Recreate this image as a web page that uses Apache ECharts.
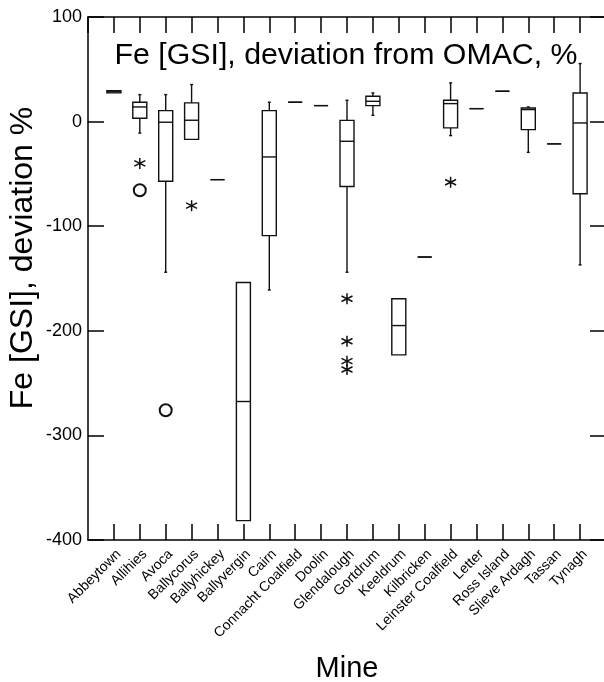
<!DOCTYPE html>
<html>
  <head>
    <meta charset="UTF-8" />
    <title></title>
    <style type="text/css">
      html,
      body {
        width: 100%;
        height: 100%;
        margin: 0;
        padding: 0;
        overflow: hidden;
        background: #fff;
      }
      #chart {
        width: 604px;
        height: 682px;
      }
    </style>
  </head>
  <body>
    <div id="chart"></div>
    <script src="https://cdn.jsdelivr.net/npm/echarts@6/dist/echarts.min.js"></script>
    <script type="text/javascript">
      const mines = [
        "Abbeytown", "Allihies", "Avoca", "Ballycorus", "Ballyhickey",
        "Ballyvergin", "Cairn", "Connacht Coalfield", "Doolin", "Glendalough",
        "Gortdrum", "Keeldrum", "Kilbricken", "Leinster Coalfield", "Letter",
        "Ross Island", "Slieve Ardagh", "Tassan", "Tynagh",
      ];
      // box stats per mine
      const lowWhisker = [27.5, -11, -144, -17, -55.5, -381.5, -161, 18.5, 15.3, -144, 6, -223, -129.5, -13.4, 12.4, 29, -29.4, -21.3, -137];
      const q1 = [27.5, 3.2, -57, -17, -55.5, -381.5, -109, 18.5, 15.3, -62, 15.3, -223, -129.5, -6, 12.4, 29, -7.7, -21.3, -69];
      const median = [28.5, 14, -0.6, 1.3, -55.5, -267.6, -33.8, 18.5, 15.3, -18.8, 19.4, -195, -129.5, 17.2, 12.4, 29, 11.5, -21.3, -1.3];
      const q3 = [29.5, 18.5, 10.5, 17.9, -55.5, -153.8, 10.5, 18.5, 15.3, 1.2, 24.2, -169.4, -129.5, 20.4, 12.4, 29, 13, -21.3, 27.4];
      const highWhisker = [29.5, 25.8, 25.8, 35.4, -55.5, -153.8, 18.5, 18.5, 15.3, 20.4, 27.4, -169.4, -129.5, 37, 12.4, 29, 14, -21.3, 55.5];

      // outliers (asterisk) and far outliers (circle)
      const starMine = ["Allihies", "Ballycorus", "Glendalough", "Glendalough", "Glendalough", "Glendalough", "Leinster Coalfield"];
      const starValue = [-40, -80.4, -169.4, -210, -229, -237, -58];
      const circleMine = ["Allihies", "Avoca"];
      const circleValue = [-65.7, -276];

      const yTicks = [100, 0, -100, -200, -300, -400];

      const boxData = mines.map((m, i) => [i + 1, lowWhisker[i], q1[i], median[i], q3[i], highWhisker[i]]);
      const starData = starMine.map((m, i) => [mines.indexOf(m) + 1, starValue[i]]);
      const circleData = circleMine.map((m, i) => [mines.indexOf(m) + 1, circleValue[i]]);

      const lineStyle = { stroke: "#111", lineWidth: 1.4, fill: null };

      function renderBox(params, api) {
        const x = api.value(0);
        const half = 7;
        const pLow = api.coord([x, api.value(1)]);
        const pQ1 = api.coord([x, api.value(2)]);
        const pMed = api.coord([x, api.value(3)]);
        const pQ3 = api.coord([x, api.value(4)]);
        const pHigh = api.coord([x, api.value(5)]);
        const cx = pMed[0];
        const children = [
          {
            type: "rect",
            shape: { x: cx - half, y: pQ3[1], width: half * 2, height: pQ1[1] - pQ3[1] },
            style: { stroke: "#111", lineWidth: 1.4, fill: "#fff" },
          },
          {
            type: "line",
            shape: { x1: cx - half, y1: pMed[1], x2: cx + half, y2: pMed[1] },
            style: lineStyle,
          },
        ];
        if (pHigh[1] < pQ3[1] - 0.5) {
          children.push(
            { type: "line", shape: { x1: cx, y1: pQ3[1], x2: cx, y2: pHigh[1] }, style: lineStyle },
            { type: "line", shape: { x1: cx - 1.5, y1: pHigh[1], x2: cx + 1.5, y2: pHigh[1] }, style: lineStyle }
          );
        }
        if (pLow[1] > pQ1[1] + 0.5) {
          children.push(
            { type: "line", shape: { x1: cx, y1: pQ1[1], x2: cx, y2: pLow[1] }, style: lineStyle },
            { type: "line", shape: { x1: cx - 1.5, y1: pLow[1], x2: cx + 1.5, y2: pLow[1] }, style: lineStyle }
          );
        }
        return { type: "group", children: children };
      }

      const starPath = "path://M6,0L6,12M0.8,3L11.2,9M0.8,9L11.2,3";
      const font = "Liberation Sans, Arial, sans-serif";

      const frameLine = { show: true, onZero: false, lineStyle: { color: "#000", width: 1.5 } };
      const frameTick = { show: true, inside: true, length: 16, lineStyle: { color: "#000", width: 1.5 } };

      const chart = echarts.init(document.getElementById("chart"));
      const option = {
        backgroundColor: "#fff",
        animation: false,
        textStyle: { fontFamily: font },
        title: {
          text: "Fe [GSI], deviation from OMAC, %",
          left: 341,
          textAlign: "center",
          top: 36,
          textStyle: { fontFamily: font, fontSize: 30.3, fontWeight: "normal", color: "#000" },
        },
        grid: { left: 88, top: 17, right: -2, bottom: 142, containLabel: false, outerBoundsMode: "none" },
        xAxis: [
          {
            type: "value",
            min: 0,
            max: 20,
            interval: 1,
            name: "Mine",
            nameLocation: "middle",
            nameGap: 114,
            nameTextStyle: { fontFamily: font, fontSize: 29, color: "#000" },
            axisLine: frameLine,
            axisTick: frameTick,
            axisLabel: {
              rotate: 45,
              margin: 7,
              verticalAlign: "top",
              fontFamily: font,
              fontSize: 14,
              color: "#000",
              showMinLabel: false,
              showMaxLabel: false,
              formatter: (v) => mines[v - 1] || "",
            },
            splitLine: { show: false },
          },
          {
            type: "value",
            position: "top",
            min: 0,
            max: 20,
            interval: 1,
            axisLine: frameLine,
            axisTick: frameTick,
            axisLabel: { show: false },
            splitLine: { show: false },
          },
        ],
        yAxis: [
          {
            type: "value",
            min: yTicks[yTicks.length - 1],
            max: yTicks[0],
            interval: 100,
            axisLine: frameLine,
            axisTick: frameTick,
            axisLabel: { margin: 6, fontFamily: font, fontSize: 18, color: "#000" },
            splitLine: { show: false },
          },
          {
            type: "value",
            position: "right",
            min: yTicks[yTicks.length - 1],
            max: yTicks[0],
            interval: 100,
            axisLine: frameLine,
            axisTick: frameTick,
            axisLabel: { show: false },
            splitLine: { show: false },
          },
        ],
        graphic: [
          {
            type: "text",
            x: 23,
            y: 258,
            rotation: Math.PI / 2,
            style: {
              text: "Fe [GSI], deviation %",
              font: "32px " + font,
              fill: "#000",
              textAlign: "center",
              textVerticalAlign: "middle",
            },
          },
        ],
        series: [
          {
            type: "custom",
            renderItem: renderBox,
            encode: { x: 0, y: [1, 2, 3, 4, 5] },
            data: boxData,
            z: 2,
          },
          {
            type: "scatter",
            symbol: starPath,
            symbolSize: 11,
            itemStyle: { color: "none", borderColor: "#111", borderWidth: 1.5, opacity: 1 },
            data: starData,
            z: 3,
          },
          {
            type: "scatter",
            symbol: "emptyCircle",
            symbolSize: 12,
            itemStyle: { color: "#111", borderColor: "#111", borderWidth: 1.3, opacity: 1 },
            data: circleData,
            z: 3,
          },
        ],
      };
      chart.setOption(option);
    </script>
  </body>
</html>
